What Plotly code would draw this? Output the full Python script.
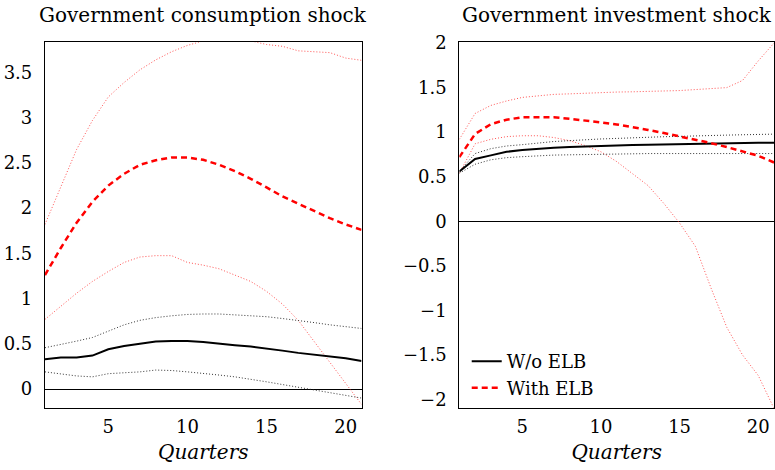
import plotly.graph_objects as go
from plotly.subplots import make_subplots

quarters = list(range(1, 22))

# Government consumption shock
cons_noelb = [0.33, 0.35, 0.35, 0.37, 0.44, 0.475, 0.50, 0.525, 0.53, 0.53, 0.52,
              0.50, 0.485, 0.47, 0.45, 0.425, 0.40, 0.38, 0.36, 0.34, 0.31]
cons_noelb_hi = [0.457, 0.49, 0.53, 0.57, 0.64, 0.71, 0.76, 0.79, 0.81, 0.825, 0.83,
                 0.83, 0.82, 0.81, 0.80, 0.78, 0.76, 0.735, 0.71, 0.69, 0.67]
cons_noelb_lo = [0.19, 0.17, 0.145, 0.135, 0.17, 0.18, 0.19, 0.21, 0.205, 0.19, 0.175,
                 0.155, 0.135, 0.11, 0.08, 0.05, 0.02, -0.01, -0.04, -0.07, -0.10]
cons_elb = [1.26, 1.56, 1.84, 2.07, 2.25, 2.38, 2.48, 2.53, 2.56, 2.56, 2.535,
            2.48, 2.41, 2.325, 2.23, 2.13, 2.05, 1.97, 1.89, 1.82, 1.76]
cons_elb_hi = [1.82, 2.23, 2.65, 2.97, 3.23, 3.39, 3.53, 3.64, 3.73, 3.80, 3.85,
               3.87, 3.87, 3.85, 3.81, 3.79, 3.74, 3.73, 3.72, 3.66, 3.635]
cons_elb_lo = [0.77, 0.92, 1.06, 1.19, 1.30, 1.40, 1.46, 1.475, 1.475, 1.40, 1.37,
               1.33, 1.26, 1.19, 1.08, 0.94, 0.76, 0.53, 0.30, 0.06, -0.17]

# Government investment shock
inv_noelb = [0.56, 0.70, 0.74, 0.78, 0.80, 0.815, 0.826, 0.833, 0.84, 0.848, 0.85,
             0.855, 0.858, 0.862, 0.866, 0.87, 0.873, 0.877, 0.877, 0.88, 0.88]
inv_noelb_hi = [0.56, 0.76, 0.815, 0.845, 0.86, 0.88, 0.895, 0.905, 0.917, 0.924, 0.93,
                0.938, 0.945, 0.949, 0.953, 0.96, 0.964, 0.967, 0.971, 0.975, 0.978]
inv_noelb_lo = [0.54, 0.64, 0.69, 0.714, 0.725, 0.735, 0.743, 0.746, 0.75, 0.754, 0.757,
                0.757, 0.76, 0.76, 0.76, 0.76, 0.76, 0.76, 0.76, 0.76, 0.76]
inv_elb = [0.72, 0.98, 1.09, 1.14, 1.167, 1.17, 1.167, 1.15, 1.134, 1.11, 1.087,
           1.058, 1.025, 0.99, 0.953, 0.917, 0.877, 0.833, 0.786, 0.735, 0.66]
inv_elb_hi = [0.92, 1.21, 1.30, 1.35, 1.39, 1.41, 1.424, 1.43, 1.438, 1.446, 1.45,
              1.453, 1.457, 1.46, 1.467, 1.478, 1.49, 1.50, 1.58, 1.80, 2.0]
inv_elb_lo = [0.54, 0.87, 0.92, 0.95, 0.96, 0.96, 0.94, 0.905, 0.85, 0.78, 0.67,
              0.54, 0.40, 0.20, -0.02, -0.28, -0.75, -1.19, -1.50, -1.73, -2.10]

panel_titles = ["Government consumption shock", "Government investment shock"]
x_ticks = [5, 10, 15, 20]
y_ticks_left = [0, 0.5, 1, 1.5, 2, 2.5, 3, 3.5]
y_ticks_right = [-2, -1.5, -1, -0.5, 0, 0.5, 1, 1.5, 2]

FONT = "'DejaVu Serif', 'Liberation Serif', serif"

fig = make_subplots(rows=1, cols=2)

panels = [
    (cons_noelb, cons_noelb_hi, cons_noelb_lo, cons_elb, cons_elb_hi, cons_elb_lo),
    (inv_noelb, inv_noelb_hi, inv_noelb_lo, inv_elb, inv_elb_hi, inv_elb_lo),
]

for col, (m0, h0, l0, m1, h1, l1) in enumerate(panels, start=1):
    show = col == 2
    for band in (h1, l1):
        fig.add_trace(go.Scatter(x=quarters, y=band, mode="lines", showlegend=False,
                                 line=dict(color="rgba(255,40,40,0.8)", width=1, dash="1px,2px")),
                      row=1, col=col)
    for band in (h0, l0):
        fig.add_trace(go.Scatter(x=quarters, y=band, mode="lines", showlegend=False,
                                 line=dict(color="rgba(30,30,30,0.9)", width=1, dash="1px,2px")),
                      row=1, col=col)
    fig.add_trace(go.Scatter(x=quarters, y=m0, mode="lines", name="W/o ELB", showlegend=show,
                             line=dict(color="black", width=2)), row=1, col=col)
    fig.add_trace(go.Scatter(x=quarters, y=m1, mode="lines", name="With ELB", showlegend=show,
                             line=dict(color="#ff0000", width=2.5, dash="6px,4px")),
                  row=1, col=col)

axis_common = dict(showgrid=False, showline=True, linecolor="black", linewidth=1.2,
                   mirror=True, ticks="", tickfont=dict(family=FONT, size=18, color="black"))

fig.update_xaxes(**axis_common, range=[1, 21], tickvals=x_ticks, ticklabelstandoff=3,
                 zeroline=False,
                 title=dict(text="<i>Quarters</i>", font=dict(family=FONT, size=20, color="black"),
                            standoff=8))
fig.update_xaxes(domain=[0.0581, 0.4671], row=1, col=1)
fig.update_xaxes(domain=[0.5935, 1.0], row=1, col=2)

fig.update_yaxes(**axis_common, zeroline=True, zerolinecolor="black", zerolinewidth=1,
                 ticklabelstandoff=8, domain=[0.1319, 0.9298])
fig.update_yaxes(range=[-0.205, 3.836], tickvals=y_ticks_left, row=1, col=1)
fig.update_yaxes(range=[-2.09, 2.01], tickvals=y_ticks_right, row=1, col=2)

for i, t in enumerate(panel_titles):
    cx = (0.0581 + 0.4671) / 2 if i == 0 else (0.5935 + 1.0) / 2
    fig.add_annotation(text=t, x=cx, y=1 - 5 / 470, xref="paper", yref="paper",
                       xanchor="center", yanchor="middle", showarrow=False,
                       font=dict(family=FONT, size=20, color="black"))

fig.update_layout(
    width=775, height=470,
    margin=dict(l=0, r=0, t=0, b=0),
    paper_bgcolor="white", plot_bgcolor="white",
    font=dict(family=FONT, color="black"),
    legend=dict(x=0.603, y=0.135, xanchor="left", yanchor="bottom",
                bgcolor="rgba(0,0,0,0)", font=dict(family=FONT, size=18),
                tracegroupgap=0, itemwidth=30),
)

fig.write_html("out.html")
